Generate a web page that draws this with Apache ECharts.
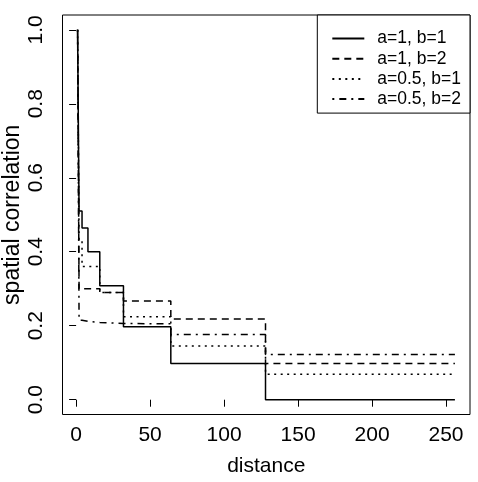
<!DOCTYPE html>
<html>
<head>
<meta charset="utf-8">
<script src="https://cdn.jsdelivr.net/npm/echarts@6/dist/echarts.min.js"></script>
<style>html,body{margin:0;padding:0;background:#fff}#c{width:478px;height:482px}</style>
</head>
<body>
<div id="c"></div>
<script>
// distance at which each block starts (block values hold until next distance)
var distances = [1, 2, 4, 8, 16, 32, 64, 128, 256];
var corr_a1_b1   = [1, 0.51, 0.464, 0.40, 0.308, 0.197, 0.098, 0.0, 0.0];
var corr_a1_b2   = [1, 0.30, 0.30, 0.30, 0.29, 0.267, 0.218, 0.098, 0.098];
var corr_a05_b1  = [1, 0.43, 0.36, 0.36, 0.29, 0.224, 0.145, 0.069, 0.069];
var corr_a05_b2  = [1, 0.215, 0.212, 0.209, 0.206, 0.205, 0.176, 0.122, 0.122];
var seriesNames = ['a=1, b=1', 'a=1, b=2', 'a=0.5, b=1', 'a=0.5, b=2'];
var xTicks = [0, 50, 100, 150, 200, 250];
var yTicks = [0, 0.2, 0.4, 0.6, 0.8, 1.0];

var FONT = "'Liberation Sans', Arial, sans-serif";
var dashes = ['solid', [7, 5], [2, 4.5], [2, 5, 7, 5]];
var allSeries = [corr_a1_b1, corr_a1_b2, corr_a05_b1, corr_a05_b2];

function pairs(vals) {
  return distances.map(function (d, i) { return [d, vals[i]]; });
}

var chart = echarts.init(document.getElementById('c'), null, {renderer: 'canvas'});
chart.setOption({
  animation: false,
  backgroundColor: '#fff',
  grid: {left: 62.5, right: 8, top: 15, bottom: 67.5, show: true, borderColor: '#000', borderWidth: 1,
         backgroundColor: 'transparent', containLabel: false, outerBoundsMode: 'none'},
  legend: {
    orient: 'vertical', right: 8, top: 15,
    data: seriesNames,
    borderColor: '#000', borderWidth: 1, borderRadius: 0,
    padding: [13.5, 9, 4, 14],
    itemWidth: 32, itemHeight: 14, itemGap: 0.2,
    backgroundColor: '#fff',
    itemStyle: {opacity: 0},
    textStyle: {fontFamily: FONT, fontSize: 17.5, lineHeight: 20, color: '#000', padding: [0, 0, 0, 8]}
  },
  xAxis: {
    type: 'value', min: -9.2, max: 266.2,
    name: 'distance', nameLocation: 'middle', nameGap: 41, nameMoveOverlap: false,
    nameTextStyle: {fontFamily: FONT, fontSize: 21, color: '#000'},
    axisLine: {show: false},
    axisTick: {show: true, inside: false, length: 7, lineStyle: {color: '#000', width: 1}, customValues: xTicks},
    axisLabel: {fontFamily: FONT, fontSize: 21, color: '#000', margin: 10, customValues: xTicks, formatter: function (v) { return String(v); }},
    splitLine: {show: false}
  },
  yAxis: {
    type: 'value', min: -0.04, max: 1.04,
    name: 'spatial correlation', nameLocation: 'middle', nameGap: 38, nameRotate: 90, nameMoveOverlap: false,
    nameTextStyle: {fontFamily: FONT, fontSize: 23, color: '#000'},
    axisLine: {show: false},
    axisTick: {show: true, inside: false, length: 7, lineStyle: {color: '#000', width: 1}, customValues: yTicks},
    axisLabel: {fontFamily: FONT, fontSize: 21, color: '#000', margin: 16, rotate: 90, customValues: yTicks, formatter: function (v) { return v.toFixed(1); }},
    splitLine: {show: false}
  },
  series: allSeries.map(function (vals, i) {
    return {
      name: seriesNames[i], type: 'line', step: 'end', symbol: 'none',
      data: pairs(vals),
      lineStyle: {color: '#000', width: 1.5, type: dashes[i]},
      itemStyle: {color: '#000'}
    };
  })
});
</script>
</body>
</html>
